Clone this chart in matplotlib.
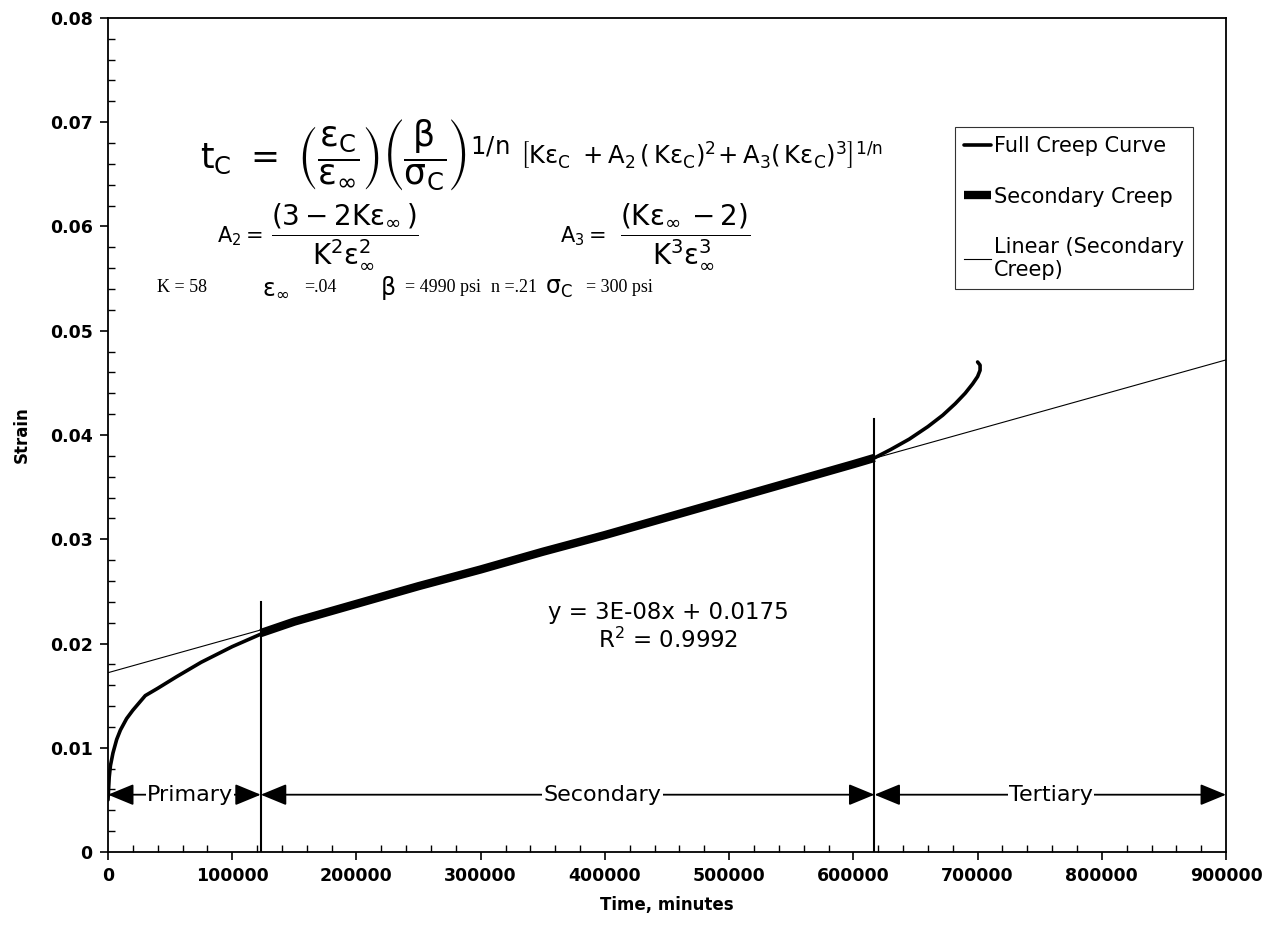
import matplotlib
matplotlib.use('Agg')
from matplotlib import pyplot as plt
from matplotlib.ticker import MultipleLocator, FuncFormatter

plt.rcParams['font.family'] = ['DejaVu Sans']
plt.rcParams['mathtext.fontset'] = 'dejavusans'

# full creep curve (time in minutes, strain)
primary_t = [0, 1000, 2000, 4000, 7000, 10000, 15000, 20000, 30000, 40000, 55000, 75000, 100000, 123000]
primary_e = [0.0050, 0.0072, 0.0083, 0.0095, 0.0108, 0.0117, 0.0128, 0.0136, 0.0150, 0.0157, 0.0168, 0.0182, 0.0197, 0.0209]

second_t = [123000, 150000, 200000, 250000, 300000, 350000, 400000, 450000, 500000, 550000, 600000, 617000]
second_e = [0.0210, 0.0221, 0.0238, 0.0255, 0.0271, 0.0288, 0.0304, 0.0321, 0.0338, 0.0355, 0.0372, 0.0378]

tert_t = [617000, 630000, 645000, 660000, 672000, 682000, 690000, 696000, 700000, 702000, 702000, 700000]
tert_e = [0.0378, 0.0386, 0.0396, 0.0408, 0.0419, 0.0430, 0.0440, 0.0449, 0.0456, 0.0462, 0.0467, 0.0470]

# linear trendline of secondary creep
lin_t = [0, 900000]
lin_e = [0.0172, 0.0472]

# stage boundaries
bounds = [0, 123000, 617000, 900000]
stage_names = ['Primary', 'Secondary', 'Tertiary']
stage_text_x = [66000, 398000, 759000]
arrow_y = 0.0055

full_t = primary_t + second_t[1:] + tert_t[1:]
full_e = primary_e + second_e[1:] + tert_e[1:]

fig = plt.figure(figsize=(12.75, 9.42), dpi=100)
ax = fig.add_axes([0.0847, 0.0955, 0.8769, 0.8855])

ax.plot(full_t, full_e, color='k', lw=2.6, label='Full Creep Curve', solid_capstyle='round')
ax.plot(second_t, second_e, color='k', lw=6, label='Secondary Creep', solid_capstyle='butt')
ax.plot(lin_t, lin_e, color='k', lw=0.8, label='Linear (Secondary\nCreep)')

ax.plot([bounds[1], bounds[1]], [0, 0.024], color='k', lw=1.5)
ax.plot([bounds[2], bounds[2]], [0, 0.0415], color='k', lw=1.5)

for i in range(3):
    ax.annotate('', xy=(bounds[i], arrow_y), xytext=(bounds[i + 1], arrow_y),
                arrowprops=dict(arrowstyle='<|-|>,head_length=0.8,head_width=0.33',
                                color='k', lw=1.3, shrinkA=0, shrinkB=0, mutation_scale=20))
    ax.text(stage_text_x[i], arrow_y, stage_names[i], fontsize=16, ha='center', va='center',
            bbox=dict(facecolor='white', edgecolor='none', pad=1.0))

ax.set_xlim(0, 900000)
ax.set_ylim(0, 0.08)
ax.xaxis.set_major_locator(MultipleLocator(100000))
ax.xaxis.set_minor_locator(MultipleLocator(20000))
ax.yaxis.set_major_locator(MultipleLocator(0.01))
ax.yaxis.set_minor_locator(MultipleLocator(0.002))
ax.xaxis.set_major_formatter(FuncFormatter(lambda v, p: '%d' % round(v)))
ax.yaxis.set_major_formatter(FuncFormatter(lambda v, p: '%g' % round(v, 3)))
ax.tick_params(which='major', direction='out', length=6, width=1.2, labelsize=12.5, pad=5)
ax.tick_params(which='minor', direction='in', length=5, width=1)
for lab in ax.get_xticklabels() + ax.get_yticklabels():
    lab.set_fontweight('bold')
for s in ax.spines.values():
    s.set_linewidth(1.3)

ax.set_xlabel('Time, minutes', fontsize=12, fontweight='bold', labelpad=8)
ax.set_ylabel('Strain', fontsize=12, fontweight='bold', labelpad=14)

# equations
ax.text(74000, 0.0669,
        r'$\mathregular{t_C\ =\ \left(\dfrac{\varepsilon_C}{\varepsilon_\infty}\right)\left(\dfrac{\beta}{\sigma_C}\right)^{1/n}}$',
        fontsize=25, va='center')
ax.text(332000, 0.0669,
        r'$\mathregular{\left[K\varepsilon_C\ + A_2\,(\,K\varepsilon_C)^2\!+ A_3(\,K\varepsilon_C)^3\right]^{1/n}}$',
        fontsize=17.5, va='center')
eq_y = 0.0591
ax.text(88000, eq_y, r'$\mathregular{A_2 =}$', fontsize=15, va='center')
ax.text(131000, eq_y, r'$\mathregular{\dfrac{(3-2K\varepsilon_\infty\,)}{K^2\varepsilon_\infty^2}}$',
        fontsize=20, va='center')
ax.text(364000, eq_y, r'$\mathregular{A_3 =}$', fontsize=15, va='center')
ax.text(412000, eq_y, r'$\mathregular{\dfrac{(K\varepsilon_\infty\,-2)}{K^3\varepsilon_\infty^3}}$',
        fontsize=20, va='center')

# parameters
py = 0.0541
serif = ['Liberation Serif', 'DejaVu Serif']
ax.text(39500, py, 'K = 58', fontsize=13, family=serif, va='center')
ax.text(124000, py, r'$\mathregular{\varepsilon_\infty}$', fontsize=17, va='center')
ax.text(157500, py, '=.04', fontsize=13, family=serif, va='center')
ax.text(219000, py, r'$\mathregular{\beta}$', fontsize=17, va='center')
ax.text(239000, py, '= 4990 psi', fontsize=13, family=serif, va='center')
ax.text(308000, py, 'n =.21', fontsize=13, family=serif, va='center')
ax.text(352000, py, r'$\mathregular{\sigma_C}$', fontsize=17, va='center')
ax.text(385000, py, '= 300 psi', fontsize=13, family=serif, va='center')

ax.text(451000, 0.0230, 'y = 3E-08x + 0.0175', fontsize=16.5, ha='center', va='center')
ax.text(451000, 0.0203, r'R$^2$ = 0.9992', fontsize=16.5, ha='center', va='center')

leg = ax.legend(loc='upper right', bbox_to_anchor=(0.9705, 0.8693), fontsize=15,
                frameon=True, fancybox=False, edgecolor='k', handlelength=1.3,
                handletextpad=0.1, labelspacing=1.45, borderpad=0.45, borderaxespad=0)
leg.get_frame().set_linewidth(0.8)

plt.savefig('out.png', dpi=100)
